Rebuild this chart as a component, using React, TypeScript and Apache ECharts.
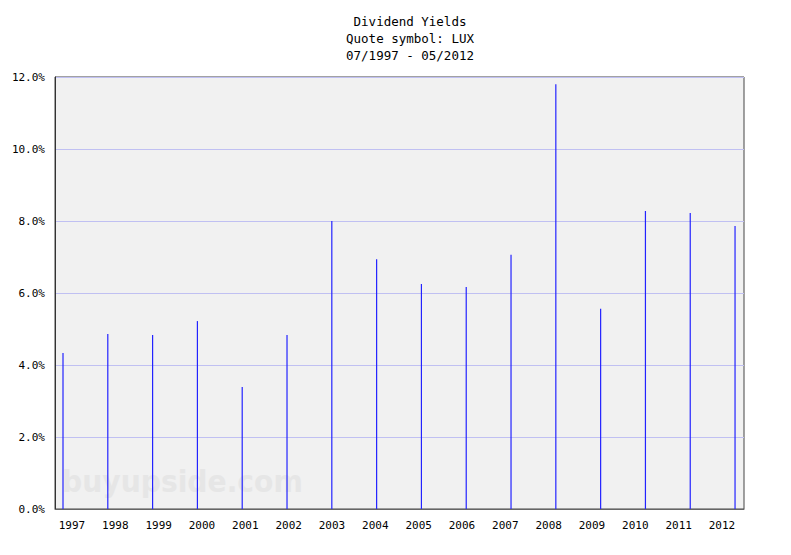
import React, { useEffect, useRef } from "react";
import * as echarts from "echarts";

const years = ["1997", "1998", "1999", "2000", "2001", "2002", "2003", "2004", "2005", "2006", "2007", "2008", "2009", "2010", "2011", "2012"];
const yields = [4.33, 4.86, 4.83, 5.22, 3.39, 4.83, 8.0, 6.94, 6.25, 6.17, 7.06, 11.8, 5.56, 8.28, 8.22, 7.86];
const yTicks = [0, 2, 4, 6, 8, 10, 12];

const FONT = "DejaVu Sans Mono";

export default function App() {
  const ref = useRef<HTMLDivElement>(null);
  useEffect(() => {
    if (!ref.current) return;
    const chart = echarts.init(ref.current, null, { renderer: "svg" });
    const data = yields.map((v, i) => [i, v]);
    chart.setOption({
      animation: false,
      backgroundColor: "#ffffff",
      title: {
        text: "Dividend Yields\nQuote symbol: LUX\n07/1997 - 05/2012",
        left: 405,
        top: 8,
        textAlign: "center",
        textStyle: { fontFamily: FONT, fontSize: 12.5, fontWeight: "normal", color: "#000", lineHeight: 17 },
      },
      graphic: [
        {
          type: "text",
          left: 62,
          top: 466,
          z: 0,
          silent: true,
          style: {
            text: "buyupside.com",
            font: "bold 31px 'DejaVu Sans'",
            fill: "#e6e6e6",
          },
          scaleX: 0.91,
        },
      ],
      grid: {
        left: 55,
        top: 77,
        width: 689,
        height: 432,
        show: true,
        backgroundColor: "#f1f1f1",
        borderColor: "#444",
        borderWidth: 1,
        z: -1,
      },
      xAxis: [
        {
          type: "value",
          min: -0.1786,
          max: 15.2,
          axisLine: { show: true, onZero: false, lineStyle: { color: "#666", width: 1 } },
          axisTick: { show: false },
          axisLabel: { show: false },
          splitLine: { show: false },
        },
        {
          type: "value",
          position: "bottom",
          min: -0.392,
          max: 15.508,
          axisLine: { show: false },
          axisTick: { show: false },
          splitLine: { show: false },
          axisLabel: {
            customValues: years.map((_, i) => i),
            formatter: (v: number) => years[Math.round(v)] ?? "",
            fontFamily: FONT,
            fontSize: 11,
            color: "#000",
            margin: 11,
          },
        },
      ],
      yAxis: {
        type: "value",
        min: 0,
        max: 12,
        interval: 2,
        axisLine: { show: true, onZero: false, lineStyle: { color: "#333", width: 1 } },
        axisTick: { show: false },
        axisLabel: {
          customValues: yTicks,
          formatter: (v: number) => v.toFixed(1) + "%",
          fontFamily: FONT,
          fontSize: 11,
          color: "#000",
          margin: 10,
        },
        splitLine: { show: true, lineStyle: { color: "#c0c0f2", width: 1 } },
      },
      series: [
        {
          type: "bar",
          xAxisIndex: 0,
          data,
          barWidth: 1.2,
          itemStyle: { color: "#2323ff" },
          z: 3,
        },
      ],
    });
    return () => chart.dispose();
  }, []);
  return <div ref={ref} style={{ position: "fixed", left: 0, top: 0, width: 791, height: 555 }} />;
}
